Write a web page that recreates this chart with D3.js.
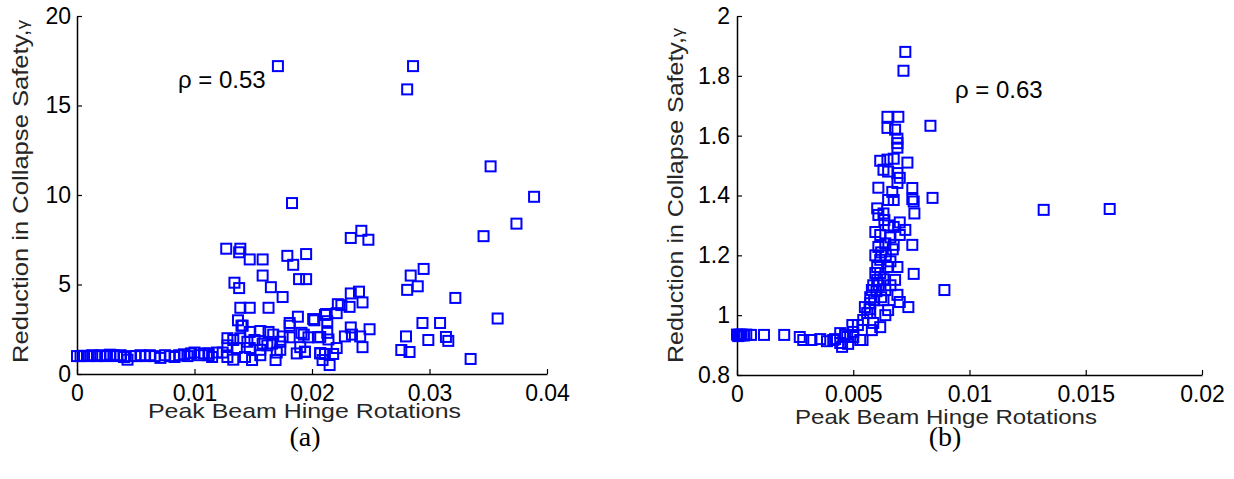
<!DOCTYPE html>
<html><head><meta charset="utf-8">
<script src="https://cdn.jsdelivr.net/npm/d3@7/dist/d3.min.js"></script>
<style>body{margin:0;background:#fff} svg{display:block}</style>
</head><body><svg id="c" width="1234" height="479"></svg>
<script>
// ---------- Data: panel (a) ----------
const xA = [0,0.0003,0.0006,0.001,0.0013,0.0017,0.002,0.0024,0.0028,0.0031,0.0034,0.0037,0.004,0.0043,0.0046,0.005,0.0054,0.0058,0.0062,0.0066,0.0071,0.0075,0.0079,0.0083,0.0087,0.0091,0.0094,0.0097,0.01,0.0104,0.0108,0.0112,0.0115,
 0.0171,0.0183,0.0286,0.0281,0.0352,0.0389,0.0374,0.0346,0.0242,0.0233,0.0248,
 0.0295,0.0284,0.0290,0.0281,0.0322,0.0358,0.0294,0.0309,0.0280,0.0314,0.0299,0.0316,0.0276,0.0283,0.0335,
 0.0233,0.0240,0.0243,0.0232,0.0225,0.0221,0.0212,0.0201,0.0213,0.0233,0.0249,0.0234,0.0241,0.0228,0.0207,0.0193,0.0214,0.0243,0.0221,0.0207,0.0211,0.0218,0.0215,0.0194,
 0.0127,0.0139,0.0138,0.0147,0.0158,0.0179,0.0195,0.0184,0.0158,0.0189,0.0195,0.0134,0.0138,0.0165,0.0175,0.0139,0.0147,0.0163,0.0137,0.0188,0.0202,0.0222,0.0140,0.0181,
 0.0211,0.0141,0.0181,0.0147,0.0156,0.0163,0.0167,0.0175,0.0181,0.0191,0.0197,0.0205,0.0213,0.0128,0.0133,0.0139,0.0145,0.0151,0.0158,0.0166,0.0173,0.0128,0.0136,0.0147,0.0156,0.0119,0.0112,0.0128,0.0149,0.0169,0.0187,0.0194,0.0207,0.0209,0.0173,0.0143,0.0133,0.0124,0.0162,0.0170,0.0156,0.0190];
const yA = [1.0,1.0,1.02,1.0,1.05,1.0,1.05,1.0,1.08,1.05,1.0,1.05,0.95,0.8,1.0,1.0,1.05,1.0,1.05,1.0,0.9,1.05,1.0,0.95,1.05,1.1,1.0,1.15,1.2,1.05,1.15,1.05,0.95,
 17.2,9.55,17.2,15.9,11.6,9.9,8.4,7.7,8.0,7.6,7.5,
 5.87,5.5,4.9,4.7,4.25,3.1,2.85,2.85,2.1,2.07,1.9,1.85,1.34,1.23,0.84,
 4.5,4.6,4.0,3.75,3.85,3.4,3.35,3.07,2.95,2.6,2.5,2.2,2.1,2.1,2.07,2.2,1.93,1.5,1.45,1.17,1.12,1.12,0.5,1.23,
 7.0,7.0,6.8,6.4,6.4,6.6,6.7,6.1,5.5,5.3,5.3,5.1,4.8,4.85,4.3,3.7,3.7,3.7,3.0,3.2,3.0,3.9,2.7,2.7,
 3.3,2.7,2.85,2.35,2.4,2.35,2.2,2.1,2.05,2.3,2.05,2.05,2.3,2.0,1.9,2.0,1.8,1.9,1.7,1.7,1.8,1.6,1.45,1.45,1.35,1.2,1.15,0.95,0.78,0.78,1.15,1.25,1.15,0.78,1.35,0.95,0.8,1.2,1.6,1.2,1.05,1.5];

// ---------- Data: panel (b) ----------
const xB = [0,0.00005,0.0001,0.00015,0.0002,0.0003,0.0004,0.0006,0.00116,0.00203,0.0027,0.00285,0.0032,0.00358,0.00387,0.00414,0.00422,0.00444,0.00452,0.00465,0.00474,0.00478,0.005,0.005,0.0052,0.0053,0.0054,0.00496,0.00444,
 0.00543,0.0056,0.0055,0.00573,0.00573,0.0058,0.00586,0.00603,0.00595,0.00603,0.00616,0.00595,0.00608,0.00638,0.00674,0.00754,0.0076,0.0068,0.0065,0.0069,0.0069,0.0070,0.00737,0.0065,0.00638,0.00616,0.0058,0.00638,0.00616,0.00573,0.00586,
 0.0062,0.006,0.0061,0.0063,0.0064,0.0066,0.0062,0.0067,0.0059,0.0057,0.0063,0.0066,
 0.00595,0.00616,0.0066,0.0070,0.00724,0.00608,0.00634,0.0065,0.00674,0.0070,0.0063,0.00603,0.0065,0.00674,0.00763,0.0076,0.00754,0.00754,0.00668,0.00608,0.0069,0.0070,0.0069,0.0065,0.0063,0.00733,0.00674,0.00647,0.00616,0.0069,0.0069,0.0069,0.0068,0.00647,0.00694,0.00647,0.00716,0.00724,0.00832,0.00841,0.00892,0.01319,0.01603];
const yB = [0.935,0.93,0.935,0.932,0.935,0.932,0.935,0.934,0.934,0.934,0.927,0.917,0.917,0.92,0.913,0.917,0.92,0.907,0.894,0.934,0.927,0.904,0.944,0.927,0.967,0.917,0.917,0.967,0.94,
 0.984,1.007,1.027,1.04,1.06,1.084,1.10,1.118,1.141,1.161,1.185,1.20,1.228,1.24,1.235,1.235,1.138,1.118,1.161,1.161,1.068,1.044,1.027,1.017,1.0,0.96,0.95,1.084,1.141,1.007,0.974,
 1.06,1.08,1.1,1.12,1.2,1.18,1.21,1.22,1.05,1.02,1.05,1.1,
 1.278,1.268,1.26,1.268,1.285,1.335,1.318,1.30,1.295,1.31,1.34,1.357,1.385,1.385,1.34,1.38,1.388,1.425,1.412,1.426,1.442,1.459,1.475,1.48,1.486,1.51,1.523,1.52,1.516,1.56,1.575,1.59,1.62,1.626,1.663,1.663,1.817,1.880,1.633,1.392,1.084,1.352,1.355];

// ---------- Ticks & text ----------
const xTicksA = [0, 0.01, 0.02, 0.03, 0.04];
const yTicksA = [0, 5, 10, 15, 20];
const xTicksB = [0, 0.005, 0.01, 0.015, 0.02];
const yTicksB = [0.8, 1, 1.2, 1.4, 1.6, 1.8, 2];
const xLabelText = "Peak Beam Hinge Rotations";
const yLabelMain = "Reduction in Collapse Safety,";
const yLabelSym = "\u03B3";
const rhoA = "\u03C1 = 0.53";
const rhoB = "\u03C1 = 0.63";
const captionA = "(a)";
const captionB = "(b)";

const svg = d3.select('#c');
const FONT = "'Liberation Sans', Arial, Helvetica, sans-serif";

function panel(cfg) {
  const x = d3.scaleLinear().domain(cfg.xDom).range([cfg.left, cfg.right]);
  const y = d3.scaleLinear().domain(cfg.yDom).range([cfg.bottom, cfg.top]);
  const g = svg.append('g');

  const ax = g.append('g').attr('transform', `translate(0,${cfg.bottom})`)
    .call(d3.axisBottom(x).tickValues(cfg.xTicks).tickFormat(d => String(d))
      .tickSizeInner(-5).tickSizeOuter(0).tickPadding(11));
  const ay = g.append('g').attr('transform', `translate(${cfg.left},0)`)
    .call(d3.axisLeft(y).tickValues(cfg.yTicks).tickFormat(d => String(d))
      .tickSizeInner(-5).tickSizeOuter(0).tickPadding(cfg.yPad));
  [ax, ay].forEach(a => {
    a.select('.domain').attr('stroke', '#000').attr('stroke-width', 1.5);
    a.selectAll('.tick line').attr('stroke', '#000').attr('stroke-width', 1.2);
    a.selectAll('.tick text').attr('fill', '#000').style('font-family', FONT).style('font-size', '23px');
  });

  const s = 10;
  g.append('g').selectAll('rect').data(cfg.xs.map((v, i) => [v, cfg.ys[i]]))
    .join('rect')
    .attr('x', d => x(d[0]) - s / 2).attr('y', d => y(d[1]) - s / 2)
    .attr('width', s).attr('height', s)
    .attr('fill', 'none').attr('stroke', '#0000ff').attr('stroke-width', 2);

  g.append('text').attr('x', cfg.rhoX).attr('y', cfg.rhoY)
    .style('font-family', FONT).style('font-size', '24px').attr('fill', '#000').text(cfg.rho);

  g.append('text').attr('x', cfg.xlX).attr('y', cfg.xlY)
    .attr('textLength', cfg.xlLen).attr('lengthAdjust', 'spacingAndGlyphs')
    .style('font-family', FONT).style('font-size', '21px').attr('fill', '#262626').text(xLabelText);

  const yl = g.append('text').attr('transform', `translate(${cfg.ylX},${cfg.ylY}) rotate(-90)`)
    .attr('textLength', cfg.ylLen).attr('lengthAdjust', 'spacingAndGlyphs')
    .style('font-family', FONT).style('font-size', '22px').attr('fill', '#262626');
  yl.append('tspan').text(yLabelMain);
  yl.append('tspan').style('font-size', '16px').text(yLabelSym);

  g.append('text').attr('x', cfg.capX).attr('y', cfg.capY).attr('text-anchor', 'middle')
    .style('font-family', "'Liberation Serif', 'Times New Roman', serif").style('font-size', '28px')
    .attr('fill', '#000').text(cfg.cap);
}

panel({xDom: [0, 0.04], yDom: [0, 20], left: 77, right: 547, top: 16, bottom: 374,
  xTicks: xTicksA, yTicks: yTicksA, yPad: 6, xs: xA, ys: yA,
  rho: rhoA, rhoX: 178, rhoY: 88, xlX: 148, xlY: 418, xlLen: 313,
  ylX: 28, ylY: 363, ylLen: 343, cap: captionA, capX: 305, capY: 446});

panel({xDom: [0, 0.02], yDom: [0.8, 2], left: 737, right: 1202, top: 16, bottom: 375,
  xTicks: xTicksB, yTicks: yTicksB, yPad: 7, xs: xB, ys: yB,
  rho: rhoB, rhoX: 955, rhoY: 98, xlX: 795, xlY: 424, xlLen: 302,
  ylX: 683, ylY: 363, ylLen: 335, cap: captionB, capX: 945, capY: 446});
</script></body></html>
